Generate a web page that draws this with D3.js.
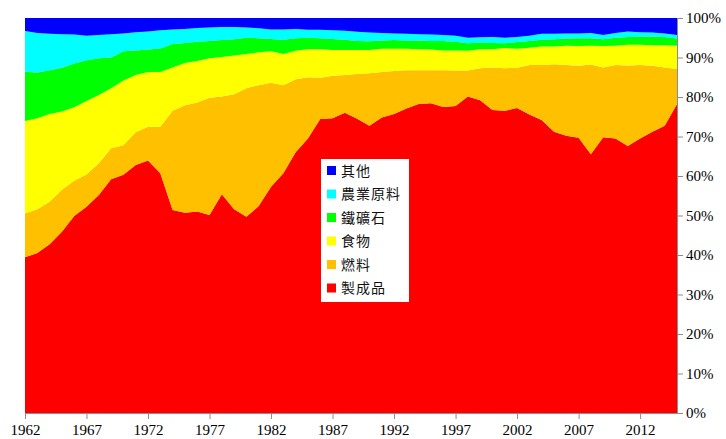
<!DOCTYPE html>
<html>
<head>
<meta charset="utf-8">
<script src="https://cdn.jsdelivr.net/npm/d3@7"></script>
<style>
    body { margin: 0; background: #fff; }
    #chart { width: 726px; height: 439px; }
    .axis text { font-family: "Liberation Serif", "Times New Roman", serif; font-size: 15px; fill: #000; }
    .axis path, .axis line { stroke: #8c8c8c; }
    .legend text { font-family: "Noto Sans CJK TC", sans-serif; font-size: 14px; fill: #111; letter-spacing: 1px; }
</style>
</head>
<body>
<div id="chart"></div>
<script>
// years on the x axis
const years = d3.range(1962, 2016);
const yearTicks = [1962, 1967, 1972, 1977, 1982, 1987, 1992, 1997, 2002, 2007, 2012];
const pctTicks = [0, 0.1, 0.2, 0.3, 0.4, 0.5, 0.6, 0.7, 0.8, 0.9, 1];

// series names, bottom to top
const seriesNames = ["製成品", "燃料", "食物", "鐵礦石", "農業原料", "其他"];
const seriesColors = ["#ff0000", "#ffc000", "#ffff00", "#00ff00", "#00ffff", "#0000ff"];

// share of exports (%) per year
const manufactures = [39.4, 40.5, 42.7, 45.9, 49.9, 52.2, 55.2, 59.2, 60.3, 62.8, 63.9, 60.7, 51.4, 50.7, 51.0, 50.1, 55.4, 51.6, 49.7, 52.4,
    57.3, 60.7, 66.0, 69.5, 74.4, 74.6, 76.0, 74.5, 72.7, 74.8, 75.7, 77.1, 78.2, 78.4, 77.5, 77.7, 80.1, 79.2, 76.7, 76.5,
    77.2, 75.6, 74.2, 71.2, 70.2, 69.7, 65.5, 69.8, 69.5, 67.6, 69.5, 71.2, 72.7, 78.2];
const fuels = [11.1, 11.1, 10.8, 10.6, 8.9, 8.2, 8.0, 7.8, 7.5, 8.3, 8.6, 11.8, 25.1, 27.2, 27.6, 29.7, 24.7, 29.1, 32.5, 30.6,
    26.3, 22.3, 18.5, 15.5, 10.5, 10.8, 9.6, 11.3, 13.3, 11.5, 10.9, 9.7, 8.6, 8.4, 9.3, 9.0, 6.6, 8.1, 10.8, 10.8,
    10.2, 12.5, 13.9, 17.1, 17.9, 18.2, 22.7, 17.7, 18.6, 20.4, 18.6, 16.7, 14.8, 8.9];
const food = [23.4, 23.0, 22.2, 19.8, 18.6, 18.6, 17.3, 15.2, 16.4, 14.5, 13.8, 13.8, 11.0, 10.7, 10.5, 10.0, 10.0, 9.8, 8.7, 8.3,
    8.0, 7.9, 7.2, 7.1, 7.2, 6.5, 6.3, 6.1, 5.9, 5.9, 5.6, 5.4, 5.3, 5.2, 5.0, 5.1, 5.0, 4.8, 4.6, 5.1,
    4.8, 4.4, 4.7, 4.5, 4.9, 5.0, 4.8, 5.4, 4.9, 5.2, 5.1, 5.2, 5.6, 5.9];
const oresMetals = [12.5, 11.6, 11.1, 11.1, 11.1, 10.3, 9.3, 7.8, 7.4, 6.2, 5.7, 6.0, 5.9, 5.1, 4.9, 4.4, 4.3, 4.1, 4.1, 3.6,
    3.1, 3.6, 3.2, 2.9, 2.8, 2.8, 2.6, 2.3, 2.2, 2.1, 2.2, 2.1, 2.2, 2.2, 2.4, 2.2, 1.9, 1.7, 1.6, 1.2,
    1.7, 1.7, 1.7, 1.8, 1.8, 2.0, 1.9, 1.7, 2.0, 2.0, 2.1, 2.2, 2.1, 1.8];
const agriRaw = [10.3, 10.0, 9.2, 8.5, 7.3, 6.2, 5.9, 5.9, 4.5, 4.6, 4.6, 4.6, 3.7, 3.5, 3.5, 3.4, 3.3, 3.1, 2.6, 2.5,
    2.4, 2.6, 2.3, 2.0, 2.1, 2.2, 2.3, 2.3, 2.2, 1.9, 1.7, 1.7, 1.6, 1.6, 1.5, 1.5, 1.4, 1.3, 1.5, 1.4,
    1.3, 1.3, 1.5, 1.4, 1.3, 1.2, 1.3, 1.1, 1.2, 1.4, 1.1, 1.0, 0.9, 0.9];
const other = [3.3, 3.8, 4.0, 4.1, 4.2, 4.5, 4.3, 4.1, 3.9, 3.6, 3.4, 3.1, 2.9, 2.8, 2.5, 2.4, 2.3, 2.3, 2.4, 2.6,
    2.9, 2.9, 2.8, 3.0, 3.0, 3.1, 3.2, 3.5, 3.7, 3.8, 3.9, 4.0, 4.1, 4.2, 4.3, 4.5, 5.0, 4.9, 4.8, 5.0,
    4.8, 4.5, 4.0, 4.0, 3.9, 3.9, 3.8, 4.3, 3.8, 3.4, 3.6, 3.7, 3.9, 4.3];

const seriesValues = [manufactures, fuels, food, oresMetals, agriRaw, other];

// legend lists top to bottom
const legendOrder = [5, 4, 3, 2, 1, 0];

class ShareArea {

    constructor(parentElement){
        this.parentElement = parentElement;
        this.data = years.map((yr, i) => {
            let row = {year: yr};
            seriesNames.forEach((name, k) => row[name] = seriesValues[k][i]);
            return row;
        });
        this.initVis();
    }

    initVis(){
        let vis = this;

        vis.margin = {top: 18, right: 49, bottom: 26, left: 25};
        vis.width = 726 - vis.margin.left - vis.margin.right;
        vis.height = 439 - vis.margin.top - vis.margin.bottom;

        vis.svg = d3.select("#" + vis.parentElement).append("svg")
            .attr("width", 726)
            .attr("height", 439)
            .append("g")
            .attr("transform", `translate(${vis.margin.left}, ${vis.margin.top})`);

        vis.x = d3.scaleLinear()
            .domain([1962, 2015])
            .range([0, vis.width]);

        vis.y = d3.scaleLinear()
            .domain([0, 1])
            .range([vis.height, 0]);

        vis.stack = d3.stack()
            .keys(seriesNames)
            .offset(d3.stackOffsetExpand);

        vis.area = d3.area()
            .x(d => vis.x(d.data.year))
            .y0(d => vis.y(d[0]))
            .y1(d => vis.y(d[1]));

        vis.updateVis();
    }

    updateVis(){
        let vis = this;

        vis.svg.selectAll(".layer")
            .data(vis.stack(vis.data))
            .join("path")
            .attr("class", "layer")
            .attr("d", vis.area)
            .attr("fill", (d, i) => seriesColors[i]);

        // right-hand percent axis
        vis.svg.append("g")
            .attr("class", "axis y-axis")
            .attr("transform", `translate(${vis.width}, 0)`)
            .call(d3.axisRight(vis.y)
                .tickValues(pctTicks)
                .tickFormat(d3.format(".0%"))
                .tickSize(6)
                .tickSizeOuter(0)
                .tickPadding(3));

        vis.svg.append("g")
            .attr("class", "axis x-axis")
            .attr("transform", `translate(0, ${vis.height})`)
            .call(d3.axisBottom(vis.x)
                .tickValues(yearTicks)
                .tickFormat(d3.format("d"))
                .tickSize(6)
                .tickSizeOuter(0)
                .tickPadding(5));

        // legend box
        let legend = vis.svg.append("g")
            .attr("class", "legend")
            .attr("transform", `translate(${321 - vis.margin.left}, ${159 - vis.margin.top})`);

        legend.append("rect")
            .attr("width", 88)
            .attr("height", 143)
            .attr("fill", "#fff");

        let items = legend.selectAll(".item")
            .data(legendOrder)
            .join("g")
            .attr("class", "item")
            .attr("transform", (d, i) => `translate(6, ${12 + i * 23.5})`);

        items.append("rect")
            .attr("y", -5)
            .attr("width", 9)
            .attr("height", 9)
            .attr("fill", d => seriesColors[d]);

        items.append("text")
            .attr("x", 14)
            .attr("dy", "0.35em")
            .text(d => seriesNames[d]);
    }
}

new ShareArea("chart");
</script>
</body>
</html>
